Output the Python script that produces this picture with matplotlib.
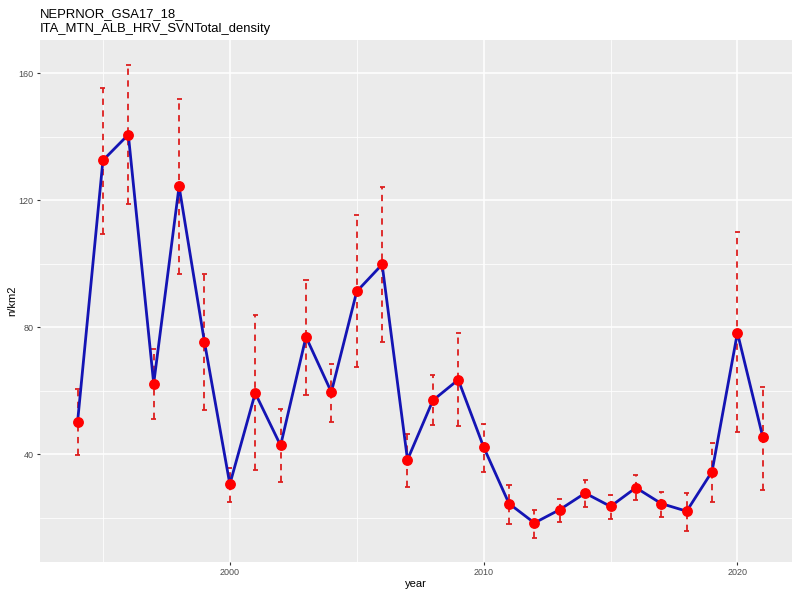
import matplotlib
matplotlib.use("Agg")
import matplotlib.pyplot as plt
from matplotlib.ticker import FixedLocator

plt.rcParams['font.family'] = ['Liberation Sans', 'DejaVu Sans']

years = [1994, 1995, 1996, 1997, 1998, 1999, 2000, 2001, 2002, 2003, 2004, 2005,
         2006, 2007, 2008, 2009, 2010, 2011, 2012, 2013, 2014, 2015, 2016, 2017,
         2018, 2019, 2020, 2021]
density = [50.2, 132.6, 140.7, 62.3, 124.4, 75.4, 30.6, 59.3, 42.8, 77.0, 59.6, 91.3,
           99.8, 38.3, 57.0, 63.5, 42.3, 24.5, 18.4, 22.6, 27.8, 23.6, 29.5, 24.5,
           22.1, 34.6, 78.3, 45.4]
upper = [60.7, 155.4, 162.5, 73.3, 152.0, 96.9, 35.7, 83.8, 54.4, 94.8, 68.6, 115.3,
         124.2, 46.5, 64.9, 78.2, 49.7, 30.2, 22.6, 26.0, 31.8, 27.1, 33.4, 28.1,
         27.8, 43.6, 110.0, 61.2]
lower = [39.7, 109.5, 118.7, 51.2, 96.9, 54.0, 25.0, 35.0, 31.3, 58.6, 50.2, 67.5,
         75.4, 29.7, 49.1, 48.8, 34.4, 18.0, 13.8, 18.7, 23.4, 19.7, 25.5, 20.3,
         16.0, 25.0, 47.0, 28.7]

title = "NEPRNOR_GSA17_18_\nITA_MTN_ALB_HRV_SVNTotal_density"

fig = plt.figure(figsize=(7.92, 5.89), dpi=100)
ax = fig.add_axes([40/792, 1 - 562/589, 752/792, (562 - 40)/589])
ax.set_facecolor('#EBEBEB')
for s in ax.spines.values():
    s.set_visible(False)

ax.set_xlim(1992.52, 2022.15)
ax.set_ylim(6.1, 170.5)
ax.xaxis.set_major_locator(FixedLocator([2000, 2010, 2020]))
ax.xaxis.set_minor_locator(FixedLocator([1995, 2005, 2015]))
ax.yaxis.set_major_locator(FixedLocator([40, 80, 120, 160]))
ax.yaxis.set_minor_locator(FixedLocator([20, 60, 100, 140]))
ax.grid(which='major', color='white', linewidth=1.1)
ax.grid(which='minor', color='white', linewidth=0.55)
ax.set_axisbelow(True)
ax.tick_params(which='major', length=2.5, width=0.8, color='#333333',
               labelsize=6.5, labelcolor='#4D4D4D', pad=2)
ax.tick_params(which='minor', length=0)

# error bars (dashed with caps)
for x, lo, hi in zip(years, lower, upper):
    ax.vlines(x, lo, hi, colors='#DD1F1F', linestyles=(0, (3.5, 3)), linewidth=1.3, zorder=2)
    ax.hlines([lo, hi], x - 0.1, x + 0.1, colors='#DD1F1F', linewidth=1.3, zorder=2)

ax.plot(years, density, color='#1414B4', linewidth=2.0, zorder=3)
ax.plot(years, density, 'o', color='#FF0000', markersize=6.8, zorder=4)

ax.set_xlabel('year', fontsize=8, labelpad=1)
ax.set_ylabel('n/km2', fontsize=8, labelpad=1)
fig.text(40/792, 1 - 8/589, title, fontsize=9.4, ha='left', va='top', linespacing=1.3)

fig.savefig('out.png', dpi=100)
